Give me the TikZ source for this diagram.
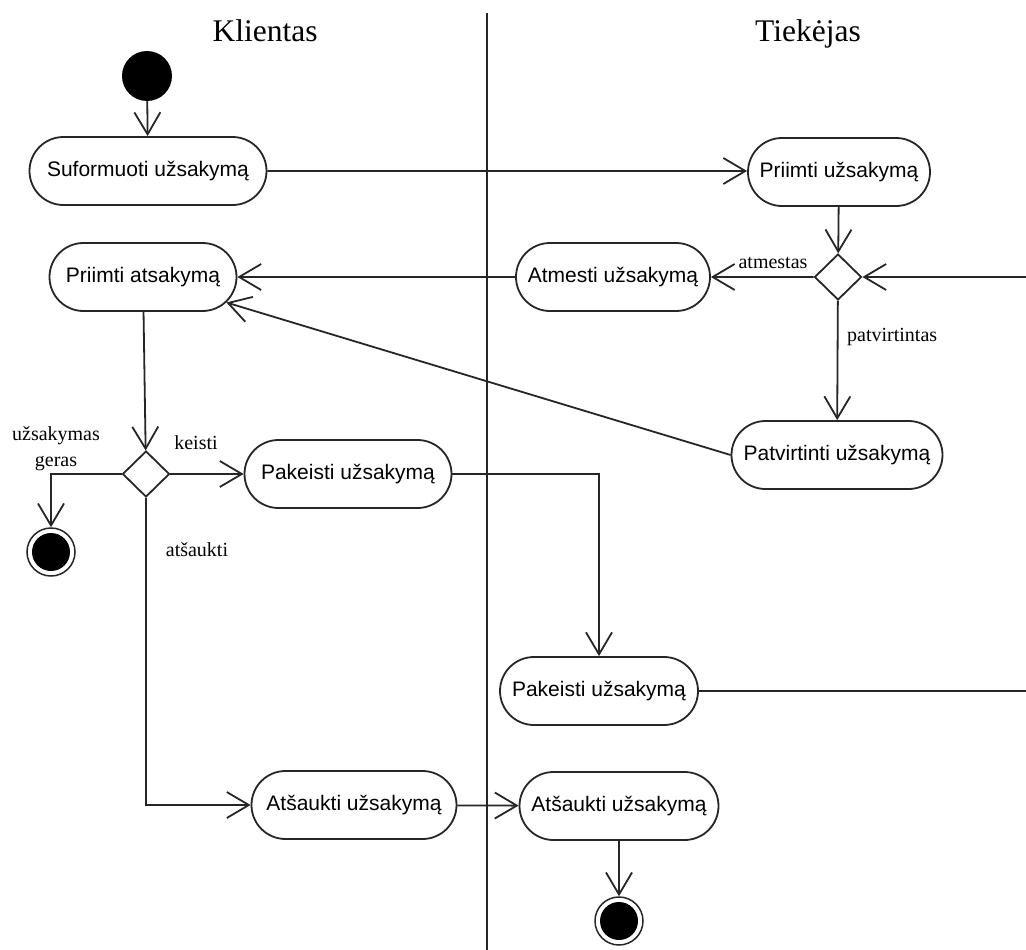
\documentclass[tikz,border=0pt]{standalone}
\usepackage{fontspec}
\setmainfont{Liberation Serif}
\newfontfamily\actfont{Liberation Sans}
\usetikzlibrary{shapes.misc,shapes.geometric,arrows.meta}

\tikzset{
  ln/.style={draw=black!85, line width=1.8pt},
  flow/.style={ln, -{Straight Barb[length=22pt, width=26pt, line width=1.8pt]}},
  act/.style={ln, rounded rectangle, minimum height=68pt, inner sep=0pt,
    font=\actfont\fontsize{21}{24}\selectfont},
  choice/.style={ln, diamond, minimum width=47pt, minimum height=46pt, inner sep=0pt},
  startnode/.style={circle, fill=black, minimum size=50pt, inner sep=0pt},
  endnode/.style={ln, circle, minimum size=48pt, inner sep=0pt, line width=1.5pt,
    path picture={\fill[black] (path picture bounding box.center) circle (19pt);}},
  guard/.style={font=\fontsize{20}{26}\selectfont, inner sep=1pt},
  lane/.style={font=\fontsize{31.5}{34}\selectfont, anchor=base}
}

\begin{document}
\begin{tikzpicture}[x=1pt, y=-1pt]
\useasboundingbox (0,0) rectangle (1026,950);

% swimlane divider and headers
\draw[ln] (487,13) -- (487,950);
\node[lane] (hk) at (265,42) {Klientas};
\node[lane] (ht) at (808,42) {Tiekėjas};

% client lane
\node[startnode] (s) at (147,76) {};
\node[act, minimum width=237pt] (suf) at (148,171) {Suformuoti užsakymą};
\node[act, minimum width=187pt] (pa) at (143,277) {Priimti atsakymą};
\node[choice] (d2) at (146,474) {};
\node[endnode] (f1) at (51,552) {};
\node[act, minimum width=207pt] (pk1) at (348,474) {Pakeisti užsakymą};
\node[act, minimum width=205pt] (at1) at (354,805) {Atšaukti užsakymą};

% supplier lane
\node[act, minimum width=182pt] (pu) at (839,172) {Priimti užsakymą};
\node[choice] (d1) at (838,277) {};
\node[act, minimum width=194pt] (am) at (613,277) {Atmesti užsakymą};
\node[act, minimum width=211pt] (pt) at (837,455) {Patvirtinti užsakymą};
\node[act, minimum width=198pt] (pk2) at (599,691) {Pakeisti užsakymą};
\node[act, minimum width=199pt] (at2) at (619,806) {Atšaukti užsakymą};
\node[endnode] (f2) at (619,921) {};

% loose ends at the right border
\coordinate (rin) at (1026,277);
\coordinate (rout) at (1026,691);

% transitions
\draw[flow] (s) -- (suf);
\draw[flow] (suf) -- (suf.east -| pu.west);
\draw[flow] (pu) -- (d1);
\draw[flow] (d1) -- (am);
\node[guard] (gA) at (773,263) {atmestas};
\draw[flow] (rin) -- (d1);
\draw[flow] (d1) -- (pt);
\node[guard, anchor=west] (gB) at (846,337) {patvirtintas};
\draw[flow] (am) -- (pa);
\draw[flow] (pt.west) -- (pa.-17);
\draw[flow] (pa) -- (d2);
\draw[flow] (d2.west) -| (f1.north);
\node[guard, align=center] (gC) at (56,449) {užsakymas\\geras};
\draw[flow] (d2) -- (pk1);
\node[guard] (gD) at (196,443) {keisti};
\draw[flow] (d2.south) |- (at1.west);
\node[guard] (gE) at (197,550) {atšaukti};
\draw[flow] (pk1.east) -| (pk2.north);
\draw[ln] (pk2) -- (rout);
\draw[flow] (at1) -- (at2);
\draw[flow] (at2) -- (f2);
\end{tikzpicture}
\end{document}
